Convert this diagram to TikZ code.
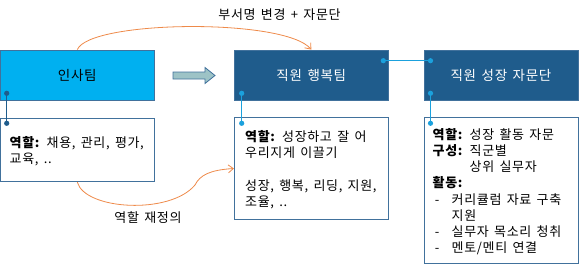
\documentclass[tikz,border=0pt]{standalone}
\usepackage{fontspec}
\setmainfont{Noto Sans CJK KR}[LetterSpace=5,WordSpace=1.5]
\usetikzlibrary{arrows.meta}
\definecolor{hrcyan}{HTML}{00B0F0}
\definecolor{teamblue}{HTML}{1F5C8C}
\definecolor{edgeblue}{HTML}{41719C}
\definecolor{linkblue}{HTML}{1BA1DD}
\definecolor{arrowgray}{HTML}{9DC3C6}
\definecolor{curveorange}{HTML}{EE8A4A}
\newcommand{\itm}{\makebox[19pt][l]{\,-}}

\begin{document}
\begin{tikzpicture}[x=1pt, y=-1pt, >={Straight Barb[length=5pt,width=8pt]},
    headbox/.style={draw=edgeblue, line width=0.8pt, minimum width=154, minimum height=50, font=\fontsize{13.5}{16}\selectfont},
    notebox/.style={draw=edgeblue, line width=0.8pt, fill=white, minimum width=154},
    notetext/.style={anchor=north west, inner sep=0pt, align=left, font=\fontsize{13}{16.2}\selectfont},
    link/.style={line width=1.1pt},
    swap/.style={draw=curveorange, line width=0.8pt}]
    \useasboundingbox (0,0) rectangle (579,265);

    \node[headbox, fill=hrcyan] (hr) at (77.3,75) {인사팀};
    \node[headbox, fill=teamblue, text=white] (happy) at (311.3,75) {직원 행복팀};
    \node[headbox, fill=teamblue, text=white] (adv) at (501,75) {직원 성장 자문단};

    \node[notebox, minimum height=63.5] (hrnote) at (77.3,150) {};
    \node[notebox, minimum height=101.5] (happynote) at (311.3,168.5) {};
    \node[notebox, minimum height=146] (advnote) at (501,190.5) {};

    \node[notetext] (hrtxt) at (9.5,136) {\textbf{역할:} 채용, 관리, 평가,\\교육, ..};
    \node[notetext] (happytxt) at (245,130.5) {\textbf{역할:} 성장하고 잘 어\\우리지게 이끌기\\[16.2pt]성장, 행복, 리딩, 지원,\\조율, ..};
    \node[notetext] (advtxt) at (432.5,128) {\textbf{역할:} 성장 활동 자문\\\textbf{구성:} 직군별\\\phantom{\textbf{구성:} }상위 실무자\\\textbf{활동:}\\\itm 커리큘럼 자료 구축\\\hspace*{19pt}지원\\\itm 실무자 목소리 청취\\\itm 멘토/멘티 연결};

    \draw[edgeblue, line width=0.8pt, fill=arrowgray] (173,72) -- (205,72) -- (205,67.5) -- (215,75.5) -- (205,83.5) -- (205,79) -- (173,79) -- cycle;

    \coordinate (hrdot) at (6.7,93.3);
    \coordinate (hrnotedot) at (6.7,123.3);
    \coordinate (happydot) at (241.7,93.3);
    \coordinate (happynotedot) at (241.7,123.3);
    \coordinate (happyrdot) at (383.3,60.7);
    \coordinate (advldot) at (430.5,60.7);
    \coordinate (advdot) at (430.5,93.3);
    \coordinate (advnotedot) at (430.5,123.3);

    \draw[link, teamblue] (hrdot) -- (hrnotedot);
    \fill[teamblue] (hrdot) circle (2.6) (hrnotedot) circle (2.6);
    \draw[link, linkblue] (happydot) -- (happynotedot);
    \draw[link, linkblue] (happyrdot) -- (advldot);
    \draw[link, linkblue] (advdot) -- (advnotedot);
    \foreach \d in {happydot, happynotedot, happyrdot, advldot, advdot, advnotedot}
        \fill[linkblue] (\d) circle (2.6);

    \coordinate (bend) at (195,185);
    \draw[swap, ->] (hr.north) .. controls (90,20) and (285,18) .. (happy.north);
    \draw[swap, ->] (hrnote.south) .. controls (85,210) and (170,215) .. (bend) .. controls (200,175) and (210,170) .. (happynote.west);

    \node[font=\fontsize{13}{16}\selectfont] (renamelbl) at (279.5,15) {부서명 변경 + 자문단};
    \node[font=\fontsize{13}{16}\selectfont] (redeflbl) at (148,217.5) {역할 재정의};
\end{tikzpicture}
\end{document}
